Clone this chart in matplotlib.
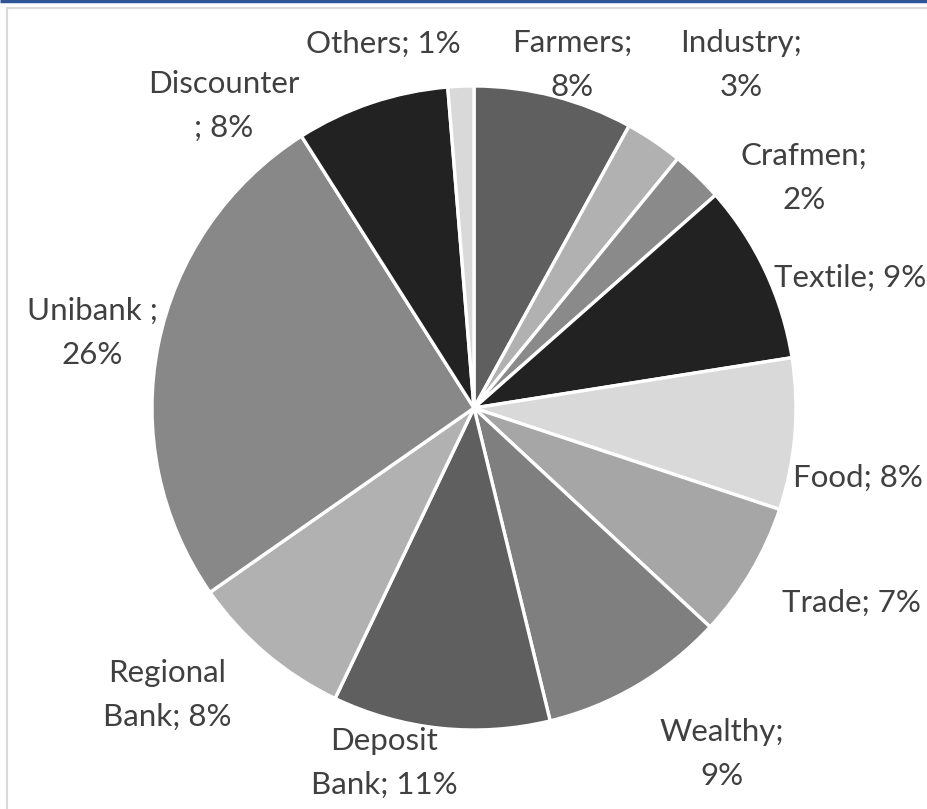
import matplotlib.pyplot as plt
from matplotlib.patches import Rectangle

plt.rcParams['font.family'] = ['Lato', 'DejaVu Sans']

# sectors, clockwise from 12 o'clock
labels = ['Farmers', 'Industry', 'Crafmen', 'Textile', 'Food', 'Trade',
          'Wealthy', 'Deposit Bank', 'Regional Bank', 'Unibank', 'Discounter', 'Others']
shares = [8.0, 2.9, 2.6, 9.0, 7.6, 6.8, 9.3, 10.9, 8.2, 25.7, 7.7, 1.3]
shown = ['8%', '3%', '2%', '9%', '8%', '7%', '9%', '11%', '8%', '26%', '8%', '1%']
colors = ['#5f5f5f', '#b1b1b1', '#8a8a8a', '#222222', '#d9d9d9', '#a6a6a6',
          '#7f7f7f', '#5f5f5f', '#b1b1b1', '#888888', '#222222', '#d9d9d9']

# label texts as laid out in the original (line breaks) and their pixel centres
label_text = ['Farmers;\n8%', 'Industry;\n3%', 'Crafmen;\n2%', 'Textile; 9%', 'Food; 8%',
              'Trade; 7%', 'Wealthy;\n9%', 'Deposit\nBank; 11%', 'Regional\nBank; 8%',
              'Unibank ;\n26%', 'Discounter\n; 8%', 'Others; 1%']
label_pos = [(572, 65), (741, 65), (804, 178), (850, 278), (858, 478), (851, 603),
             (722, 754), (384, 763), (167, 695), (92, 333), (224, 106), (383, 44)]

W, H = 928, 809
fig = plt.figure(figsize=(W / 100, H / 100), dpi=100)
ax = fig.add_axes([0, 0, 1, 1])
ax.set_xlim(0, W)
ax.set_ylim(0, H)
ax.set_aspect('equal')
ax.axis('off')

# frame and top accent line
ax.add_patch(Rectangle((7, -10), W, H - 8 + 10, fill=False, edgecolor='#d9d9d9', lw=1.5))
ax.plot([0, W], [H - 1, H - 1], color='#2f5597', lw=2.5, solid_capstyle='butt')

ax.pie(shares, colors=colors, startangle=90, counterclock=False,
       center=(474, H - 408), radius=322,
       wedgeprops=dict(edgecolor='white', linewidth=2.4))
ax.set_xlim(0, W)
ax.set_ylim(0, H)

for txt, (x, y) in zip(label_text, label_pos):
    ax.text(x, H - y, txt, ha='center', va='center', fontsize=22.5,
            color='#404040', linespacing=1.7)

plt.savefig('out.png', dpi=100)
